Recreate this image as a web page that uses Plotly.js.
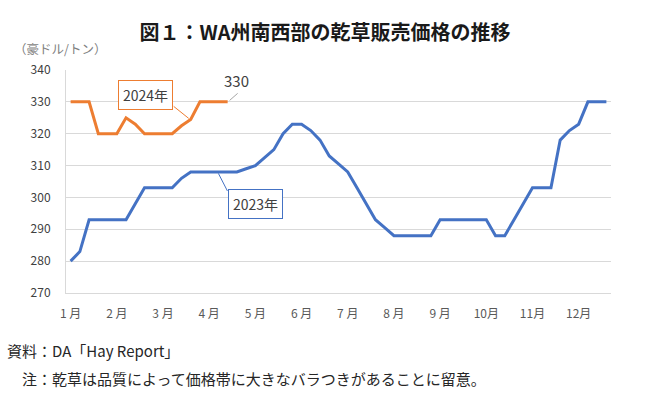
<!DOCTYPE html>
<html>
<head>
<meta charset="utf-8">
<script src="https://cdn.plot.ly/plotly-3.0.1.min.js"></script>
<style>
  html, body { margin: 0; padding: 0; background: #fff; }
  #chart { width: 650px; height: 394px; }
</style>
</head>
<body>
<div id="chart"></div>
<script>
// ---- data ----
const months = ['1月','2月','3月','4月','5月','6月','7月','8月','9月','10月','11月','12月'];
const weekNames = ['第1週','第2週','第3週','第4週','第5週'];

// 2023年 (豪ドル/トン)
const price2023 = [
  280, 283, 293, 293, 293,
  293, 293, 298, 303, 303,
  303, 303, 306, 308, 308,
  308, 308, 308, 308, 309,
  310, 312.5, 315, 320, 323,
  323, 321, 318, 313, 310.5,
  308, 303, 298, 293, 290.5,
  288, 288, 288, 288, 288,
  293, 293, 293, 293, 293,
  293, 288, 288, 293, 298,
  303, 303, 303, 318, 321,
  323, 330, 330, 330
];
// 2024年 (豪ドル/トン)
const price2024 = [
  330, 330, 330, 320, 320,
  320, 325, 323, 320, 320,
  320, 320, 322.5, 324.5, 330,
  330, 330, 330
];

const titleText = '図１：WA州南西部の乾草販売価格の推移';
const unitText = '（豪ドル/トン）';
const sourceText = '資料：DA「Hay Report」';
const noteText = '注：乾草は品質によって価格帯に大きなバラつきがあることに留意。';
const label2023 = '2023年';
const label2024 = '2024年';

// ---- build categories ----
const categories = [];
months.forEach(m => weekNames.forEach(w => categories.push(m + w)));
const x2023 = categories.slice(0, price2023.length);
const x2024 = categories.slice(0, price2024.length);
const tickvals = months.map(m => m + weekNames[0]);
const ticktext = months.map(m => m.length === 2 ? m.charAt(0) + ' ' + m.charAt(1) : m);

const BLUE = '#4472C4';
const ORANGE = '#ED7D31';
const FONT = '"Noto Sans CJK JP", "Noto Sans", sans-serif';

const traces = [
  {
    x: x2023, y: price2023, type: 'scatter', mode: 'lines',
    line: { color: BLUE, width: 3 }, name: label2023, hoverinfo: 'skip'
  },
  {
    x: x2024, y: price2024, type: 'scatter', mode: 'lines',
    line: { color: ORANGE, width: 3 }, name: label2024, hoverinfo: 'skip'
  }
];

const last2024 = price2024.length - 1;
const iLabel24 = 13;
const iLabel23 = 16;

const layout = {
  width: 650, height: 394,
  margin: { l: 66, r: 39, t: 70, b: 101 },
  paper_bgcolor: '#fff', plot_bgcolor: '#fff',
  showlegend: false,
  font: { family: FONT, color: '#595959' },
  title: {
    text: '<b>' + titleText + '</b>',
    font: { family: FONT, size: 20, color: '#1a1a1a' },
    xref: 'container', x: 0.5, xanchor: 'center',
    yref: 'container', y: 1 - 33 / 394, yanchor: 'middle'
  },
  xaxis: {
    type: 'category',
    categoryorder: 'array', categoryarray: categories,
    range: [-0.5, price2023.length - 0.5],
    tickmode: 'array', tickvals: tickvals, ticktext: ticktext,
    showgrid: false, zeroline: false,
    showline: true, linecolor: '#d9d9d9', linewidth: 1,
    ticks: '', ticklabelstandoff: 10,
    tickfont: { family: FONT, size: 12, color: '#595959' },
    fixedrange: true
  },
  yaxis: {
    range: [270, 340], dtick: 10, tick0: 270,
    showgrid: true, gridcolor: '#d9d9d9', gridwidth: 1,
    zeroline: false,
    showline: true, linecolor: '#d9d9d9', linewidth: 1,
    ticks: '', ticklabelstandoff: 12,
    tickfont: { family: FONT, size: 12, color: '#404040' },
    fixedrange: true
  },
  annotations: [
    {
      text: unitText, xref: 'paper', yref: 'paper',
      x: (12 - 66) / 545, y: (293 - 49) / 223, xanchor: 'left', yanchor: 'middle',
      showarrow: false, font: { family: FONT, size: 12.5, color: '#7f7f7f' }
    },
    {
      text: sourceText, xref: 'paper', yref: 'paper',
      x: (5 - 66) / 545, y: (293 - 351) / 223, xanchor: 'left', yanchor: 'middle',
      showarrow: false, font: { family: FONT, size: 15, color: '#262626' }
    },
    {
      text: noteText, xref: 'paper', yref: 'paper',
      x: (20 - 66) / 545, y: (293 - 378) / 223, xanchor: 'left', yanchor: 'middle',
      showarrow: false, font: { family: FONT, size: 15, color: '#262626' }
    },
    {
      text: label2024, xref: 'x', yref: 'y',
      x: x2024[iLabel24], y: price2024[iLabel24],
      xshift: -45, yshift: 24, showarrow: false,
      bordercolor: ORANGE, borderwidth: 1, borderpad: 4, bgcolor: '#fff',
      font: { family: FONT, size: 14, color: '#404040' }
    },
    {
      text: String(price2024[last2024]), xref: 'x', yref: 'y',
      x: x2024[last2024], y: price2024[last2024],
      xshift: 9, yshift: 21, showarrow: false,
      font: { family: FONT, size: 15, color: '#404040' }
    },
    {
      text: label2023, xref: 'x', yref: 'y',
      x: x2023[iLabel23], y: price2023[iLabel23],
      xshift: 37, yshift: -32, showarrow: false,
      bordercolor: BLUE, borderwidth: 1, borderpad: 4, bgcolor: '#fff',
      font: { family: FONT, size: 14, color: '#404040' }
    }
  ],
  shapes: [
    {
      type: 'line', xref: 'x', yref: 'y',
      xsizemode: 'pixel', ysizemode: 'pixel',
      xanchor: x2024[iLabel24], yanchor: price2024[iLabel24],
      x0: -2, y0: 1, x1: -17, y1: 13,
      line: { color: ORANGE, width: 1 }
    },
    {
      type: 'line', xref: 'x', yref: 'y',
      xsizemode: 'pixel', ysizemode: 'pixel',
      xanchor: x2024[last2024], yanchor: price2024[last2024],
      x0: 2, y0: 1.5, x1: 10, y1: 8.5,
      line: { color: '#a6a6a6', width: 1 }
    },
    {
      type: 'line', xref: 'x', yref: 'y',
      xsizemode: 'pixel', ysizemode: 'pixel',
      xanchor: x2023[iLabel23], yanchor: price2023[iLabel23],
      x0: 0, y0: -1.5, x1: 9, y1: -19,
      line: { color: BLUE, width: 1 }
    }
  ]
};

Plotly.newPlot('chart', traces, layout, { staticPlot: true, displayModeBar: false });
</script>
</body>
</html>
